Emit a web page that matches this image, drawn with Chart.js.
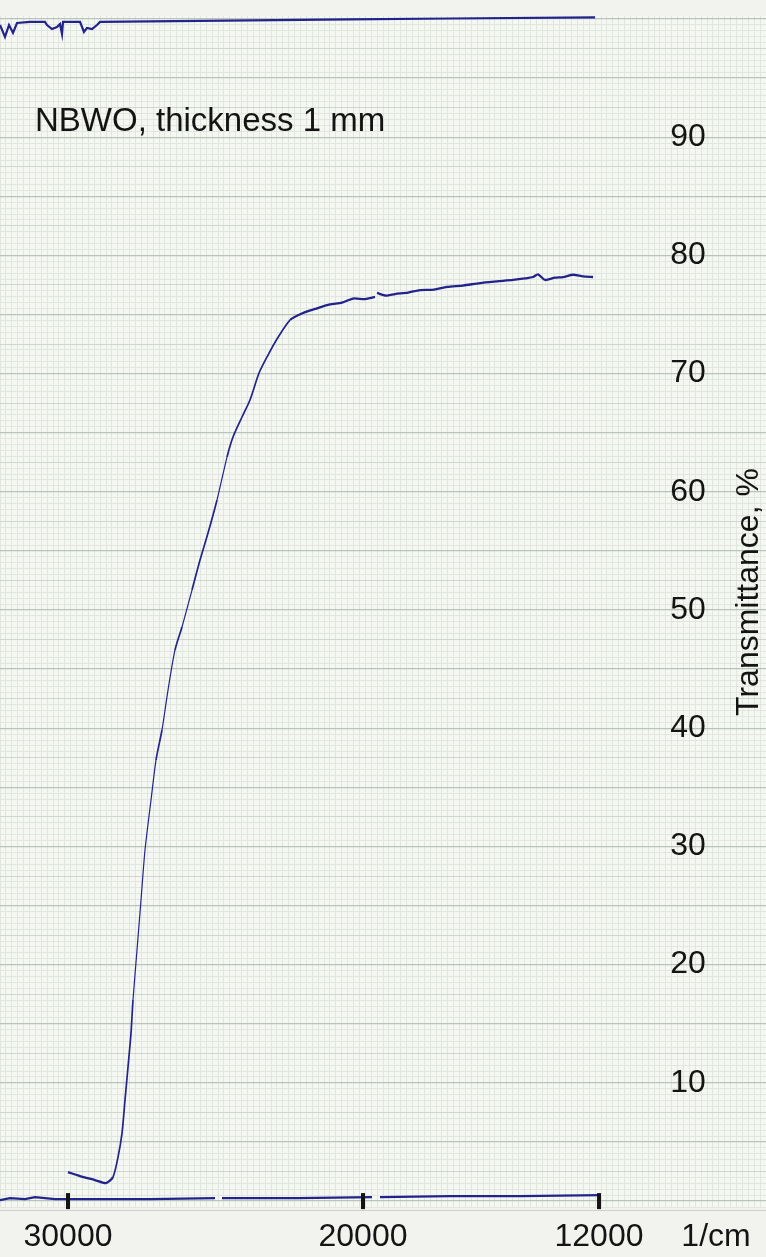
<!DOCTYPE html>
<html>
<head>
<meta charset="utf-8">
<title>NBWO transmittance</title>
<script src="https://cdn.jsdelivr.net/npm/chart.js@4.4.1/dist/chart.umd.min.js"></script>
<style>
  html, body { margin: 0; padding: 0; background: #f2f2ef; }
  #wrap { width: 766px; height: 1257px; }
</style>
</head>
<body>
<div id="wrap"><canvas id="chart" width="766" height="1257"></canvas></div>
<script>
/* Recorder sheet: wavenumber in 1/cm (decreasing to the right), transmittance in % */

// sample trace
const curveWavenumber = [
  30000, 29593, 29085, 28712, 28475, 28305, 28169, 28068, 27966, 27864,
  27797, 27661, 27525, 27390, 27186, 27017, 26814, 26610, 26373, 26136,
  25797, 25525, 25254, 24949, 24610, 24407, 24102, 23831, 23525, 23220,
  22915, 22475, 22034, 21627, 21119, 20712, 20339, 19932, 19593, 19560,
  19525, 19220, 18915, 18475, 18068, 17593, 17153, 16610, 16034, 15458,
  14915, 14508, 14237, 14068, 13831, 13492, 13220, 12881, 12542, 12203
];
const curveTransmittance = [
  2.45, 2.12, 1.78, 1.52, 2.03, 3.72, 5.75, 8.54, 11.34, 14.21,
  17.01, 21.24, 25.47, 29.70, 33.93, 37.31, 39.85, 43.23, 46.62, 48.56,
  51.69, 54.23, 56.51, 59.31, 62.94, 64.64, 66.33, 67.77, 70.05, 71.57,
  72.93, 74.53, 75.13, 75.47, 75.85, 76.00, 76.35, 76.30, 76.48, null,
  76.82, 76.60, 76.73, 76.85, 77.07, 77.10, 77.33, 77.45, 77.66, 77.80,
  77.92, 78.05, 78.17, 78.40, 77.92, 78.12, 78.17, 78.36, 78.22, 78.17
];

// 100 % reference trace along the top edge
const topWavenumber = [
  32305, 32136, 31999, 31864, 31729, 31288, 30780, 30712, 30542, 30373,
  30271, 30203, 30169, 29593, 29458, 29356, 29186, 29017, 28915, 25525,
  20441, 17051, 12136
];
const topTransmittance = [
  99.49, 98.48, 99.49, 98.82, 99.66, 99.75, 99.75, 99.49, 99.15, 99.32,
  99.58, 98.73, 99.75, 99.75, 98.90, 99.24, 99.15, 99.49, 99.75, 99.83,
  99.96, 100.04, 100.13
];

// 0 % trace along the bottom edge
const baseWavenumber = [
  32305, 31966, 31458, 31119, 30780, 30441, 30000, 27220, 25017, 24900,
  24780, 22220, 19695, 19560, 19424, 17051, 14678, 11966
];
const baseTransmittance = [
  0.08, 0.25, 0.17, 0.34, 0.25, 0.17, 0.17, 0.17, 0.25, null,
  0.25, 0.25, 0.34, null, 0.34, 0.42, 0.42, 0.51
];

const xTickValues = [30000, 20000, 12000];
const yTickValues = [10, 20, 30, 40, 50, 60, 70, 80, 90];
const sampleLabel = 'NBWO, thickness 1 mm';
const xUnitLabel = '1/cm';
const yAxisTitle = 'Transmittance, %';

const FONT = '"Liberation Sans", Arial, sans-serif';
const INK = '#141414';
const PEN = '#23238c';
const PAPER = '#f5f8f2';

const X_MIN = 6340, X_MAX = 32305;
const Y_MIN = -0.5, Y_MAX = 100.25;

const toPoints = (xs, ys) => xs.map((x, i) => ({ x, y: ys[i] }));

// millimetre paper: heavy every 10 small squares, medium every 5
const onStep = (v, s) => Math.abs(v / s - Math.round(v / s)) < 1e-6;
function paperColor(value, major, mid) {
  if (onStep(value, major)) return '#b9c3ba';
  if (onStep(value, mid)) return '#ced6cd';
  return '#e1e7df';
}
function paperWidth(value, major) {
  return onStep(value, major) ? 1.3 : 1;
}

// pen draws thinner where it moves fast
function penWidth(ctx) {
  const dy = Math.abs(ctx.p1.parsed.y - ctx.p0.parsed.y);
  if (dy > 3) return 1.2;
  if (dy > 1.2) return 1.7;
  return 2.3;
}

// everything written on / under the sheet is placed through the scales
const paperPlugin = {
  id: 'paper',
  beforeDraw(chart) {
    const { ctx, chartArea: a } = chart;
    ctx.save();
    ctx.fillStyle = PAPER;
    ctx.fillRect(a.left, a.top, a.width, a.height);
    ctx.strokeStyle = '#cfcfca';
    ctx.lineWidth = 1;
    ctx.beginPath();
    ctx.moveTo(a.left, a.bottom + 3.5);
    ctx.lineTo(a.right, a.bottom + 3.5);
    ctx.stroke();
    ctx.restore();
  },
  afterDatasetsDraw(chart) {
    const { ctx, scales: { x, y } } = chart;
    ctx.save();
    // tick bars on the zero line
    ctx.fillStyle = INK;
    const y0 = y.getPixelForValue(0);
    xTickValues.forEach(v => {
      const px = x.getPixelForValue(v);
      ctx.fillRect(px - 2, y0 - 8, 4, 16);
    });
    ctx.font = '32px ' + FONT;
    ctx.textAlign = 'center';
    ctx.textBaseline = 'middle';
    // wavenumber labels under the sheet
    xTickValues.forEach(v => ctx.fillText(String(v), x.getPixelForValue(v), 1237));
    ctx.fillText(xUnitLabel, 716, 1237);
    // transmittance scale written on the sheet
    yTickValues.forEach(v => ctx.fillText(String(v), 688, y.getPixelForValue(v)));
    // sample label
    ctx.textAlign = 'left';
    ctx.textBaseline = 'alphabetic';
    ctx.font = '33px ' + FONT;
    ctx.fillText(sampleLabel, 35, 131);
    // axis title, rotated
    ctx.translate(749, 592);
    ctx.rotate(-Math.PI / 2);
    ctx.textAlign = 'center';
    ctx.textBaseline = 'middle';
    ctx.font = '32px ' + FONT;
    ctx.fillText(yAxisTitle, 0, 0);
    ctx.restore();
  }
};

const traceStyle = {
  showLine: true,
  pointRadius: 0,
  borderColor: PEN,
  borderWidth: 2.2,
  spanGaps: false,
  tension: 0
};

new Chart(document.getElementById('chart'), {
  type: 'scatter',
  data: {
    datasets: [
      {
        ...traceStyle,
        tension: 0.25,
        data: toPoints(curveWavenumber, curveTransmittance),
        segment: { borderWidth: penWidth }
      },
      { ...traceStyle, data: toPoints(topWavenumber, topTransmittance) },
      { ...traceStyle, data: toPoints(baseWavenumber, baseTransmittance) }
    ]
  },
  options: {
    responsive: false,
    animation: false,
    layout: { padding: { top: 16, left: 0, right: 0, bottom: 50 } },
    plugins: { legend: { display: false }, tooltip: { enabled: false } },
    scales: {
      // paper ruling, vertical lines every 200 1/cm
      x: {
        type: 'linear',
        reverse: true,
        min: X_MIN,
        max: X_MAX,
        border: { display: false },
        grid: {
          drawTicks: false,
          color: ctx => paperColor(ctx.tick.value, 2000, 1000),
          lineWidth: ctx => paperWidth(ctx.tick.value, 2000)
        },
        ticks: { display: false, stepSize: 200, includeBounds: false }
      },
      // horizontal lines every 0.5 %
      y: {
        type: 'linear',
        min: Y_MIN,
        max: Y_MAX,
        border: { display: false },
        grid: {
          drawTicks: false,
          color: ctx => paperColor(ctx.tick.value, 5, 2.5),
          lineWidth: ctx => paperWidth(ctx.tick.value, 5)
        },
        ticks: { display: false, stepSize: 0.5, includeBounds: false }
      }
    }
  },
  plugins: [paperPlugin]
});
</script>
</body>
</html>
